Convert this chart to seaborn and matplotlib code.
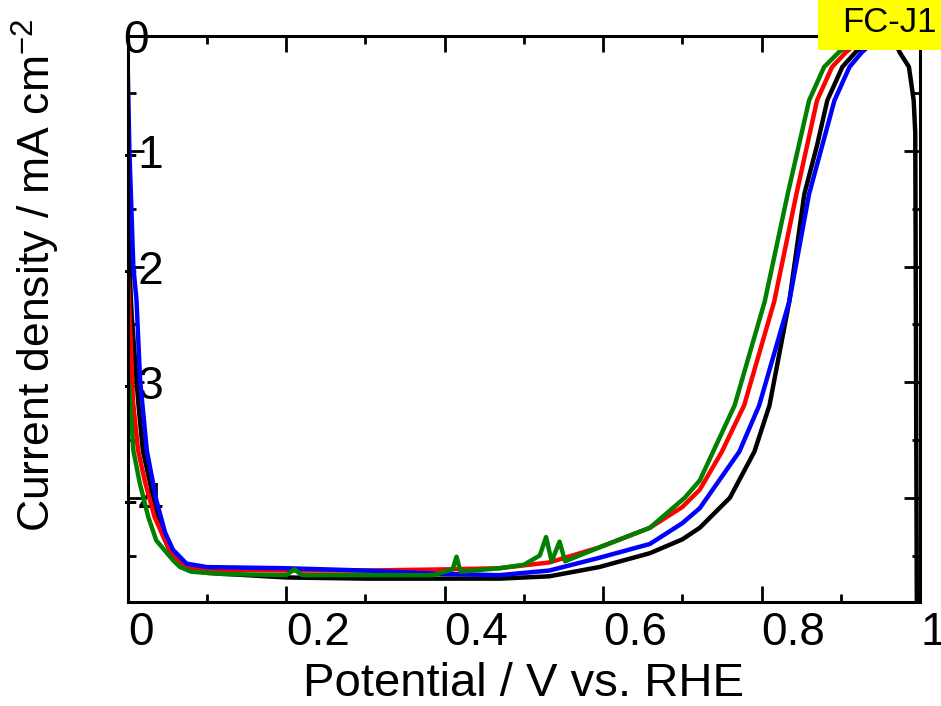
import numpy as np
import pandas as pd
import matplotlib
matplotlib.use("Agg")
import matplotlib.pyplot as plt
import seaborn as sns
from matplotlib.patches import Rectangle
from matplotlib.ticker import MultipleLocator

# LSV curves (x: V vs. RHE, y: mA cm-2)
black_x = [0.000, 0.002, 0.005, 0.013, 0.019, 0.028, 0.038, 0.049, 0.060, 0.075, 0.100,
           0.150, 0.200, 0.300, 0.400, 0.470, 0.532, 0.595, 0.659, 0.700, 0.722, 0.760,
           0.791, 0.810, 0.835, 0.854, 0.870, 0.883, 0.902, 0.919, 0.936, 0.950, 0.967,
           0.974, 0.986, 0.992, 0.994, 0.996]
black_y = [-1.45, -2.00, -2.43, -3.16, -3.59, -3.87, -4.17, -4.40, -4.55, -4.62, -4.65,
           -4.67, -4.69, -4.70, -4.70, -4.70, -4.68, -4.60, -4.48, -4.36, -4.26, -4.00,
           -3.60, -3.20, -2.30, -1.37, -0.95, -0.56, -0.27, -0.14, -0.05, -0.01, -0.02,
           -0.14, -0.27, -0.56, -0.84, -5.00]

red_x = [0.000, 0.0065, 0.013, 0.022, 0.034, 0.047, 0.057, 0.070, 0.090, 0.200, 0.300,
         0.400, 0.469, 0.532, 0.595, 0.659, 0.700, 0.722, 0.750, 0.778, 0.816, 0.844,
         0.870, 0.889, 0.907, 0.923, 0.948, 0.960]
red_y = [-2.03, -3.16, -3.59, -3.87, -4.17, -4.37, -4.50, -4.58, -4.62, -4.63, -4.63,
         -4.62, -4.61, -4.56, -4.43, -4.26, -4.08, -3.93, -3.60, -3.20, -2.30, -1.37,
         -0.56, -0.27, -0.14, -0.05, 0.00, -0.02]

blue_x = [0.000, 0.002, 0.007, 0.011, 0.0155, 0.024, 0.036, 0.047, 0.057, 0.074, 0.100,
          0.200, 0.300, 0.400, 0.469, 0.532, 0.595, 0.659, 0.700, 0.722, 0.772, 0.797,
          0.835, 0.860, 0.892, 0.911, 0.927, 0.942, 0.961, 0.968]
blue_y = [-0.30, -0.99, -2.00, -2.29, -2.98, -3.59, -4.02, -4.30, -4.45, -4.57, -4.60,
          -4.61, -4.63, -4.66, -4.67, -4.63, -4.52, -4.40, -4.22, -4.09, -3.60, -3.20,
          -2.30, -1.37, -0.56, -0.27, -0.14, -0.05, 0.00, -0.02]

green_x = [0.000, 0.003, 0.007, 0.015, 0.026, 0.036, 0.057, 0.066, 0.080, 0.120, 0.200,
           0.210, 0.220, 0.300, 0.385, 0.410, 0.415, 0.420, 0.469, 0.500, 0.520, 0.528,
           0.535, 0.545, 0.552, 0.595, 0.659, 0.703, 0.722, 0.766, 0.804, 0.833, 0.860,
           0.879, 0.898, 0.917, 0.936, 0.950]
green_y = [-2.91, -3.16, -3.59, -3.87, -4.17, -4.37, -4.54, -4.60, -4.64, -4.66, -4.67,
           -4.62, -4.67, -4.67, -4.67, -4.62, -4.51, -4.64, -4.61, -4.58, -4.50, -4.34,
           -4.55, -4.38, -4.55, -4.43, -4.26, -4.00, -3.85, -3.20, -2.30, -1.37, -0.56,
           -0.27, -0.14, -0.05, 0.00, -0.02]

curves = [(black_x, black_y, "#000000"), (red_x, red_y, "#ff0000"),
          (blue_x, blue_y, "#0000ff"), (green_x, green_y, "#008000")]

sns.set_style("ticks")
plt.rcParams["font.family"] = ["Liberation Sans", "DejaVu Sans"]
plt.rcParams["mathtext.fontset"] = "custom"
plt.rcParams["mathtext.rm"] = "Liberation Sans"
plt.rcParams["axes.unicode_minus"] = False
for key in ["text.color", "axes.labelcolor", "xtick.color", "ytick.color",
            "xtick.labelcolor", "ytick.labelcolor", "axes.edgecolor"]:
    plt.rcParams[key] = "black"

fig = plt.figure(figsize=(9.41, 7.06), dpi=100)
ax = fig.add_axes([0.1358, 0.1477, 0.8419, 0.8017])

for xs, ys, col in curves:
    df = pd.DataFrame({"E": xs, "j": ys})
    sns.lineplot(data=df, x="E", y="j", color=col, lw=3.2, sort=False,
                 estimator=None, ax=ax)

ax.set_xlim(0, 1)
ax.set_ylim(-4.9, 0)
ax.set_xticks([0, 0.2, 0.4, 0.6, 0.8, 1.0])
ax.set_xticklabels(["0", "0.2", "0.4", "0.6", "0.8", "1"])
ax.set_yticks([0, -1, -2, -3, -4])
ax.set_yticklabels(["0", "-1", "-2", "-3", "-4"])
ax.xaxis.set_minor_locator(MultipleLocator(0.1))
ax.yaxis.set_minor_locator(MultipleLocator(0.5))
ax.tick_params(which="both", direction="in", top=True, right=True, width=2,
               labelsize=33, color="black", labelcolor="black")
ax.tick_params(which="major", length=11.5)
ax.tick_params(which="minor", length=5.8)
ax.tick_params(axis="y", pad=3.6)
ax.tick_params(axis="x", pad=7)
for lab in ax.get_xticklabels() + ax.get_yticklabels():
    lab.set_horizontalalignment("left")
for sp in ax.spines.values():
    sp.set_linewidth(2.2)
    sp.set_color("black")

ax.set_xlabel("Potential / V vs. RHE", fontsize=34, labelpad=5, color="black")
ax.set_ylabel("Current density / mA cm$\\mathregular{^{-2}}$", fontsize=32,
              color="black")
ax.yaxis.set_label_coords(-0.083, 0.577)

fig.add_artist(Rectangle((818 / 941, 1 - 50 / 706), 0.14, 0.08,
                         transform=fig.transFigure, facecolor="#ffff00",
                         edgecolor="none", zorder=10))
fig.text(842 / 941, 1 - 32 / 706, "FC-J1", fontsize=25, color="black",
         ha="left", va="baseline", zorder=11)

fig.savefig("out.png", dpi=100)
